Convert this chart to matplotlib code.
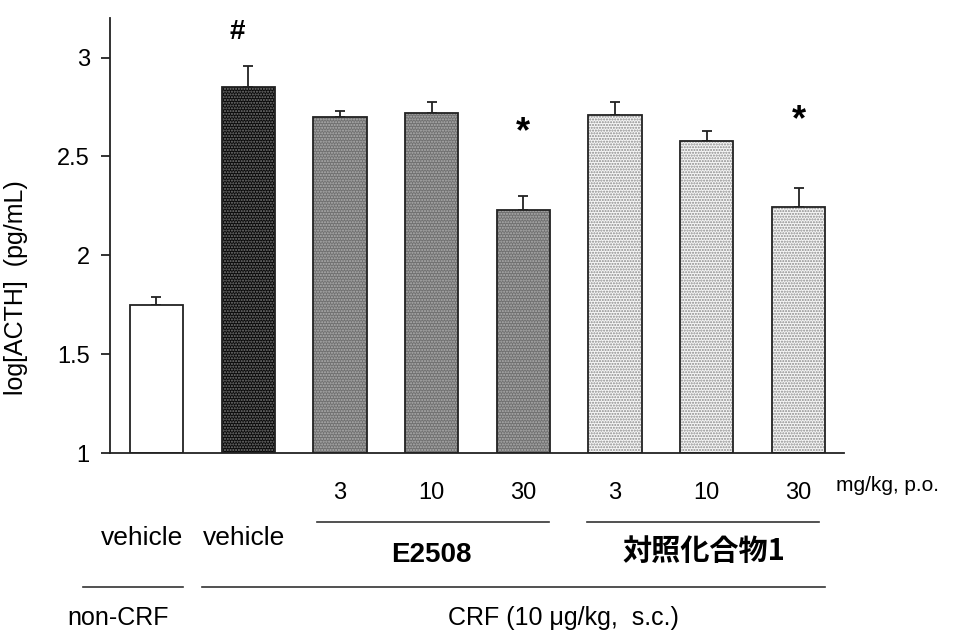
import matplotlib
matplotlib.use("Agg")
import matplotlib.pyplot as plt
import matplotlib.transforms as mtransforms
from matplotlib.lines import Line2D

# ---- data -------------------------------------------------------------
treatments = ["vehicle", "vehicle", "E2508", "E2508", "E2508",
              "対照化合物1", "対照化合物1", "対照化合物1"]
doses = ["", "", "3", "10", "30", "3", "10", "30"]
log_acth = [1.75, 2.85, 2.70, 2.72, 2.23, 2.71, 2.58, 2.245]
sem = [0.04, 0.105, 0.03, 0.055, 0.07, 0.065, 0.05, 0.095]
marks = ["", "#", "", "", "*", "", "", "*"]
mark_y = [None, 3.13, None, None, 2.62, None, None, 2.68]
yticks = [1, 1.5, 2, 2.5, 3]
ytick_labels = ["1", "1.5", "2", "2.5", "3"]

# ---- styling ----------------------------------------------------------
LATIN = "Liberation Sans"
FAMS = [LATIN, "Noto Sans CJK JP", "DejaVu Sans"]
plt.rcParams["font.family"] = FAMS
plt.rcParams["hatch.linewidth"] = 1.0

W, H = 954, 632
fig = plt.figure(figsize=(W / 100, H / 100), dpi=100)
ax = fig.add_axes([110 / W, 1 - 453 / H, 734 / W, 435 / H])

# (face colour, dot colour, hatch)
styles = [("white", "white", ""),
          ("#0a0a0a", "#7a7a7a", "......"),
          ("#707070", "#b0b0b0", "......"),
          ("#707070", "#b0b0b0", "......"),
          ("#707070", "#b0b0b0", "......"),
          ("#f6f6f6", "#8a8a8a", "......"),
          ("#f6f6f6", "#8a8a8a", "......"),
          ("#f6f6f6", "#8a8a8a", "......")]

x = list(range(len(log_acth)))
bw = 0.58
heights = [v - 1 for v in log_acth]
for xi, h, (fc, hc, ht) in zip(x, heights, styles):
    ax.bar(xi, h, width=bw, bottom=1, color=fc, edgecolor=hc,
           hatch=ht, linewidth=0, zorder=2)
    ax.bar(xi, h, width=bw, bottom=1, fill=False, edgecolor="#222222",
           linewidth=1.3, zorder=3)

ax.errorbar(x, log_acth, yerr=[[0] * len(sem), sem], fmt="none",
            ecolor="#222222", elinewidth=1.3, capsize=3.3, capthick=1.3,
            zorder=1)

for xi, m, my in zip(x, marks, mark_y):
    if m:
        dx = -0.12 if m == "#" else 0.0
        ax.text(xi + dx, my, m, ha="center", va="center",
                fontsize=20 if m == "#" else 26, fontweight="bold",
                family=FAMS)

ax.set_xlim(-0.507, 7.496)
ax.set_ylim(1, 3.2)
ax.set_yticks(yticks)
ax.set_yticklabels(ytick_labels)
ax.set_xticks([])
for s in ("top", "right"):
    ax.spines[s].set_visible(False)
for s in ("left", "bottom"):
    ax.spines[s].set_linewidth(1.3)
    ax.spines[s].set_color("#222222")
ax.tick_params(axis="y", direction="out", length=6.5, width=1.3,
               color="#222222", pad=8, labelsize=17)
ax.set_ylabel("log[ACTH]  (pg/mL)", fontsize=18)
ax.yaxis.set_label_coords(28 / W, 0.545, transform=fig.transFigure)

# ---- category annotations under the axis --------------------------------
bt = mtransforms.blended_transform_factory(ax.transData, fig.transFigure)


def fy(py):
    return 1 - py / H


for xi, d in zip(x, doses):
    if d:
        fig.text(xi, fy(499), d, transform=bt, ha="center", va="baseline",
                 fontsize=17)
fig.text(836 / W, fy(491), "mg/kg, p.o.", ha="left", va="baseline",
         fontsize=15)


def hline(x0, x1, py):
    fig.add_artist(Line2D([x0, x1], [fy(py), fy(py)], transform=bt,
                          color="#333333", linewidth=1.2, clip_on=False))


hline(1.75, 4.28, 522)
hline(4.69, 7.22, 522)
hline(-0.80, 0.29, 587)
hline(0.50, 7.29, 587)

fig.text(142 / W, fy(545), treatments[0], ha="center", va="baseline",
         fontsize=19)
fig.text(244 / W, fy(545), treatments[1], ha="center", va="baseline",
         fontsize=19)
fig.text(3, fy(562), treatments[2], transform=bt, ha="center",
         va="baseline", fontsize=20, fontweight="bold")
fig.text(704 / W, fy(560), treatments[5], ha="center", va="baseline",
         fontsize=21, fontweight="bold",
         family=["Noto Sans CJK JP", LATIN])
fig.text(118 / W, fy(625), "non-CRF", ha="center", va="baseline",
         fontsize=18)
fig.text(448 / W, fy(625), "CRF (10 μg/kg,  s.c.)", ha="left",
         va="baseline", fontsize=18)

fig.savefig("out.png", dpi=100)
